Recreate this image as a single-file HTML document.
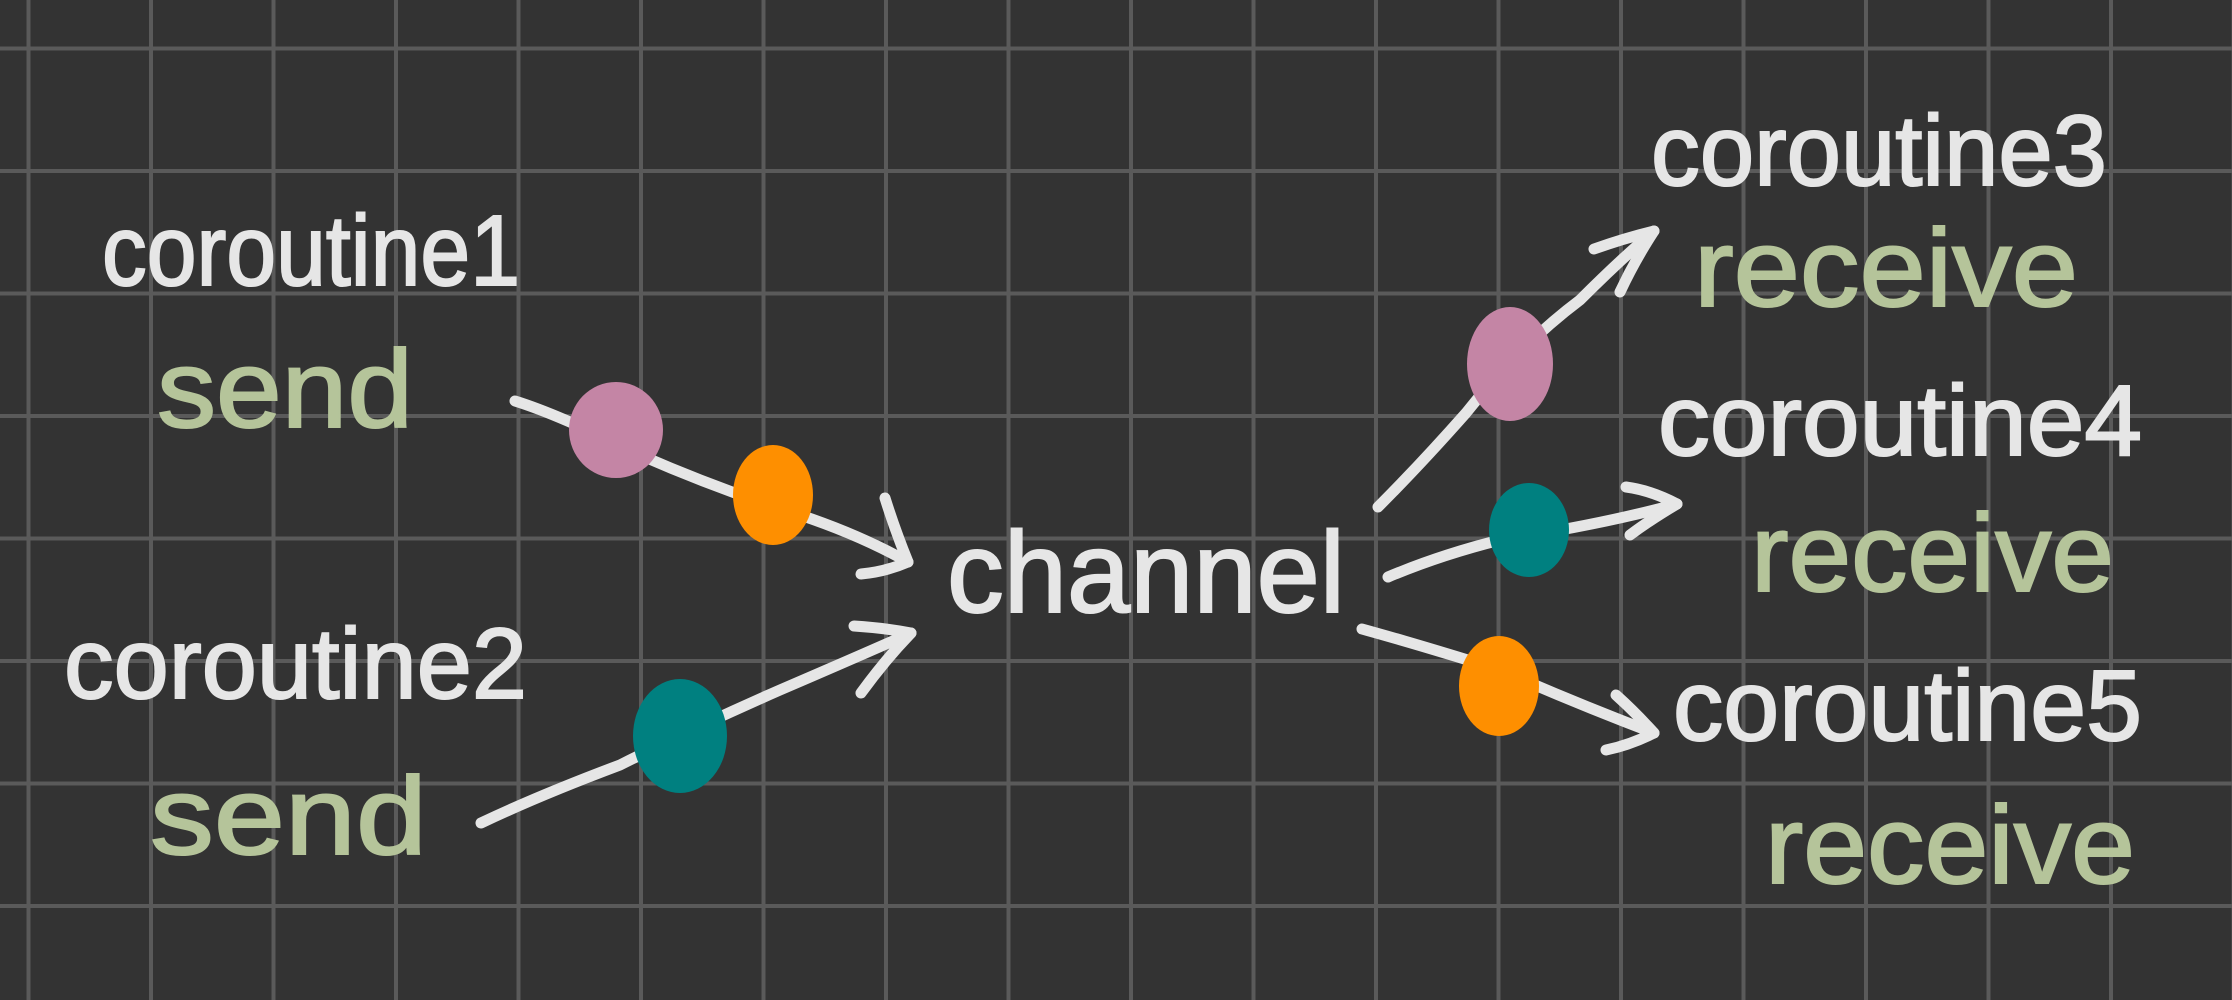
<!DOCTYPE html>
<html><head><meta charset="utf-8"><style>
html,body{margin:0;padding:0;background:#333;}
svg{display:block}
text{font-family:"Liberation Sans",sans-serif;}
</style></head><body>
<svg width="2232" height="1000" viewBox="0 0 2232 1000" xmlns="http://www.w3.org/2000/svg">
<defs>
<pattern id="g" x="26" y="46" width="122.5" height="122.5" patternUnits="userSpaceOnUse">
<path d="M0 2.5H122.5M2.5 0V122.5" stroke="#5a5a5a" stroke-width="4" fill="none"/>
</pattern>
</defs>
<rect width="2232" height="1000" fill="#333"/>
<rect width="2232" height="1000" fill="url(#g)"/>
<g fill="none" stroke="#e6e6e6" stroke-width="11" stroke-linecap="round" stroke-linejoin="round">
<path d="M515 401 Q560 415 640 455 Q720 490 800 515 Q860 535 908 562"/>
<path d="M885 498 Q895 530 908 562 Q885 572 861 574"/>
<path d="M481 823 Q540 795 620 765 Q700 725 780 690 Q850 660 911 633"/>
<path d="M854 626 Q885 628 911 633 Q885 660 861 693"/>
<path d="M1378 507 Q1420 465 1466 413 Q1520 345 1580 300 Q1620 260 1654 231"/>
<path d="M1594 249 Q1625 238 1654 231 Q1635 260 1620 292"/>
<path d="M1388 577 Q1440 555 1500 540 Q1600 525 1677 504"/>
<path d="M1626 487 Q1650 490 1677 504 Q1650 520 1630 535"/>
<path d="M1362 629 Q1420 645 1500 670 Q1580 705 1654 733"/>
<path d="M1616 695 Q1635 712 1654 733 Q1630 745 1606 750"/>
</g>
<ellipse cx="616" cy="430" rx="47" ry="48" fill="#c485a5"/>
<ellipse cx="773" cy="495" rx="40" ry="50" fill="#fe8f00"/>
<ellipse cx="680" cy="736" rx="47" ry="57" fill="#008080"/>
<ellipse cx="1510" cy="364" rx="43" ry="57" fill="#c485a5"/>
<ellipse cx="1529" cy="530" rx="40" ry="47" fill="#008080"/>
<ellipse cx="1499" cy="686" rx="40" ry="50" fill="#fe8f00"/>
<g fill="#e6e6e6" stroke="#e6e6e6" stroke-width="2" font-size="100">
<text x="102" y="285" textLength="418" lengthAdjust="spacingAndGlyphs">coroutine1</text>
<text x="64" y="698" textLength="463" lengthAdjust="spacingAndGlyphs">coroutine2</text>
<text x="947" y="612" textLength="398" lengthAdjust="spacingAndGlyphs" font-size="115">channel</text>
<text x="1651" y="185" textLength="456" lengthAdjust="spacingAndGlyphs">coroutine3</text>
<text x="1658" y="455" textLength="484" lengthAdjust="spacingAndGlyphs">coroutine4</text>
<text x="1673" y="740" textLength="469" lengthAdjust="spacingAndGlyphs">coroutine5</text>
</g>
<g fill="#b5c49a" stroke="#b5c49a" stroke-width="2" font-size="110">
<text x="157" y="427" textLength="256" lengthAdjust="spacingAndGlyphs">send</text>
<text x="150" y="854" textLength="277" lengthAdjust="spacingAndGlyphs">send</text>
<text x="1694" y="306" textLength="384" lengthAdjust="spacingAndGlyphs">receive</text>
<text x="1751" y="591" textLength="363" lengthAdjust="spacingAndGlyphs">receive</text>
<text x="1765" y="883" textLength="370" lengthAdjust="spacingAndGlyphs">receive</text>
</g>
</svg>
</body></html>
